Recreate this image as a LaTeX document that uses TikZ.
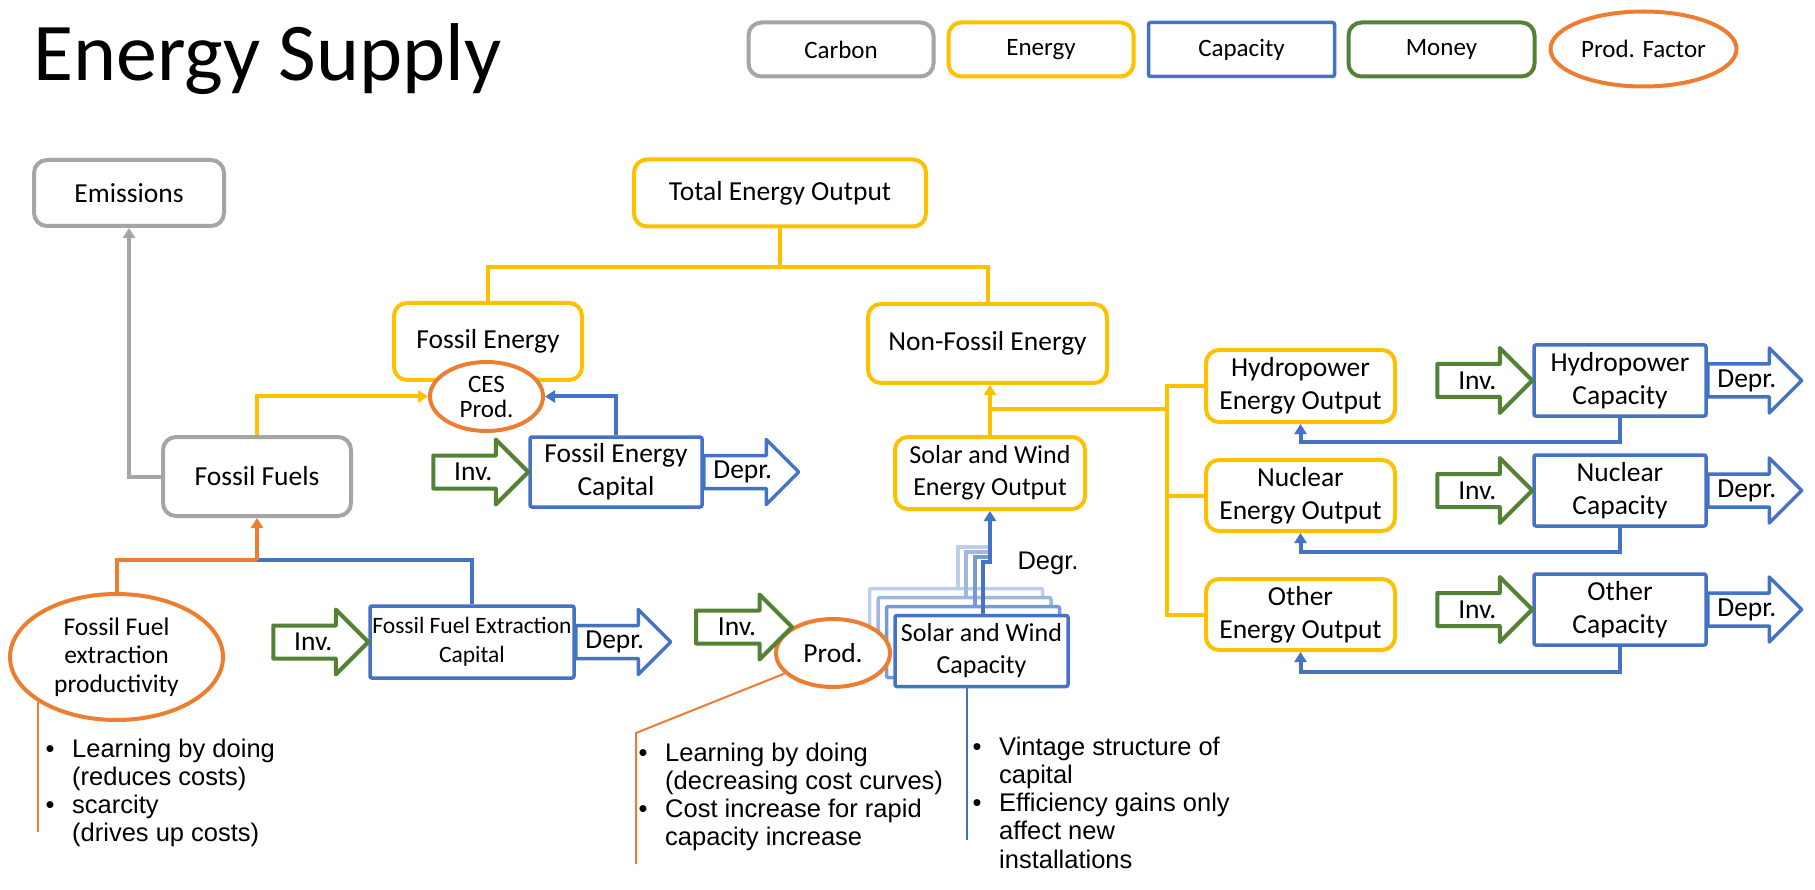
\documentclass[tikz,border=0pt]{standalone}
\usepackage{fontspec}
\setmainfont{Carlito}
\newfontfamily\arialf{Liberation Sans}
\usetikzlibrary{arrows.meta,calc,shapes.geometric}
\definecolor{cgray}{HTML}{A5A5A5}
\definecolor{cyel}{HTML}{FFC000}
\definecolor{cblue}{HTML}{4472C4}
\definecolor{cgreen}{HTML}{548235}
\definecolor{corange}{HTML}{ED7D31}
\newcommand\fatarrow[3]{%
  \draw[#1, shift={#2}] (-#3,-16.5) -- (-32.5,-16.5) -- (-32.5,-32.5) -- (0,0)
    -- (-32.5,32.5) -- (-32.5,16.5) -- (-#3,16.5) -- cycle;}
\newcommand\bulitem{\makebox[26.5pt][l]{•}}
\newcommand\bulind{\hspace*{26.5pt}}
\tikzset{
  txt/.style={font=\fontsize{27.5}{33}\selectfont, align=center, inner sep=0pt, text=black},
  gbox/.style={txt, draw=cgray, line width=4pt, rounded corners=13pt, fill=white},
  ybox/.style={txt, draw=cyel, line width=4pt, rounded corners=13pt, fill=white},
  bbox/.style={txt, draw=cblue, line width=3.5pt, rounded corners=2pt, fill=white},
  mbox/.style={txt, draw=cgreen, line width=4pt, rounded corners=13pt, fill=white},
  pell/.style={txt, ellipse, draw=corange, line width=4pt, fill=white},
  legtxt/.style={font=\fontsize{25}{30}\selectfont},
  gc/.style={draw=cgray, line width=4pt},
  yc/.style={draw=cyel, line width=4pt},
  bc/.style={draw=cblue, line width=4pt},
  oc/.style={draw=corange, line width=4pt},
  thinline/.style={line width=2pt},
  arr/.style={-{Triangle[length=10pt,width=12pt]}},
  invar/.style={draw=cgreen, line width=4pt, line join=round},
  deprar/.style={draw=cblue, line width=3.5pt, line join=round},
  note/.style={font=\arialf\fontsize{25.5}{28.3}\selectfont, inner sep=0pt, anchor=base west},
}
\begin{document}
\begin{tikzpicture}[x=1pt,y=-1pt]
\useasboundingbox (0,0) rectangle (1815,890);
\fill[white] (0,0) rectangle (1815,890);

% title
\node[anchor=base west, inner sep=0pt, font=\fontsize{82}{98}\selectfont] (title) at (33,81) {Energy Supply};

% legend
\node[gbox, legtxt, minimum width=185, minimum height=54] (lcarbon) at (841,49.5) {Carbon};
\node[ybox, legtxt, minimum width=185, minimum height=54] (lenergy) at (1041,49.5) {Energy};
\node[bbox, legtxt, minimum width=186, minimum height=54] (lcap) at (1241.5,49.5) {Capacity};
\node[mbox, legtxt, minimum width=186, minimum height=54] (lmoney) at (1441.5,49.5) {Money};
\node[pell, legtxt, minimum width=186, minimum height=75] (lpf) at (1643.5,49) {Prod. Factor};

% main boxes
\node[gbox, minimum width=190, minimum height=66] (emis) at (129,193) {Emissions};
\node[ybox, minimum width=292, minimum height=67] (total) at (780,193) {Total Energy Output};
\node[ybox, minimum width=188, minimum height=77] (fossE) at (488,341.5) {Fossil Energy};
\node[pell, font=\fontsize{25}{25}\selectfont, minimum width=113, minimum height=69] (ces) at (486.5,396.5) {CES\\Prod.};
\node[ybox, minimum width=239, minimum height=79] (nonfos) at (987.5,343.5) {Non-Fossil Energy};
\node[gbox, minimum width=188, minimum height=79] (ffuels) at (257,476.5) {Fossil Fuels};
\node[bbox, minimum width=172, minimum height=70] (fecap) at (616,472) {Fossil Energy\\Capital};
\node[pell, font=\fontsize{25.5}{28.5}\selectfont, minimum width=213, minimum height=126] (ffprod) at (116.5,657) {Fossil Fuel\\extraction\\productivity};
\node[bbox, font=\fontsize{23.5}{29}\selectfont, minimum width=204, minimum height=72] (ffecap) at (472,642) {Fossil Fuel Extraction\\Capital};
\node[ybox, font=\fontsize{26}{32}\selectfont, minimum width=190, minimum height=72] (swout) at (990,473) {Solar and Wind\\Energy Output};

% stacked vintage copies
\node[bbox, draw=cblue!35, minimum width=173, minimum height=71] (sw3) at (956,624) {};
\node[bbox, draw=cblue!52, minimum width=173, minimum height=71] (sw2) at (964.5,633) {};
\node[bbox, draw=cblue!72, minimum width=173, minimum height=71] (sw1) at (973,642) {};
\coordinate (sj3) at (990,547);
\coordinate (sj2) at (990,552);
\coordinate (sj1) at (990,557);
\coordinate (sj) at (990,562);
\draw[bc, draw=cblue!35] ($(sw3.north)+(1.5,0)$) |- (sj3);
\draw[bc, draw=cblue!52] ($(sw2.north)+(1.5,0)$) |- (sj2);
\draw[bc, draw=cblue!72] ($(sw1.north)+(1.5,0)$) |- (sj1);

\node[pell, minimum width=114, minimum height=68] (prod) at (833,653) {Prod.};
\node[bbox, font=\fontsize{26}{32}\selectfont, minimum width=173, minimum height=71] (swcap) at (981.5,651) {Solar and Wind\\Capacity};
\draw[bc, arr] ($(swcap.north)+(1.5,0)$) |- (sj) -- (swout.south);
\node[font=\arialf\fontsize{25.5}{28}\selectfont, inner sep=0pt] (degr) at (1048,563) {Degr.};

\node[ybox, minimum width=189, minimum height=72] (hydout) at (1300.5,386) {Hydropower\\Energy Output};
\node[ybox, minimum width=189, minimum height=71] (nucout) at (1300.5,495.5) {Nuclear\\Energy Output};
\node[ybox, minimum width=189, minimum height=71] (othout) at (1300.5,614.5) {Other\\Energy Output};
\node[bbox, minimum width=172, minimum height=71] (hydcap) at (1620,380.5) {Hydropower\\Capacity};
\node[bbox, minimum width=172, minimum height=71] (nuccap) at (1620,490.5) {Nuclear\\Capacity};
\node[bbox, minimum width=172, minimum height=71] (othcap) at (1620,609.5) {Other\\Capacity};

% block arrows: investment and depreciation
\fatarrow{invar}{(fecap.west)}{95}
\node[txt] (inv1) at ($(fecap.west)+(-55,0)$) {Inv.};
\fatarrow{deprar}{($(fecap.east)+(95,0)$)}{95}
\node[txt] (dep1) at ($(fecap.east)+(39,0)$) {Depr.};

\fatarrow{invar}{(ffecap.west)}{95}
\node[txt] (inv2) at ($(ffecap.west)+(-55,0)$) {Inv.};
\fatarrow{deprar}{($(ffecap.east)+(95,0)$)}{95}
\node[txt] (dep2) at ($(ffecap.east)+(39,0)$) {Depr.};

\coordinate (sinv) at ($(prod.center)+(-41,-26)$);
\fatarrow{invar}{(sinv)}{96}
\node[txt] (inv3) at ($(sinv)+(-55,0)$) {Inv.};

\fatarrow{invar}{(hydcap.west)}{95}
\node[txt] (inv4) at ($(hydcap.west)+(-55,0)$) {Inv.};
\fatarrow{deprar}{($(hydcap.east)+(94,0)$)}{94}
\node[txt] (dep4) at ($(hydcap.east)+(39,0)$) {Depr.};

\fatarrow{invar}{(nuccap.west)}{95}
\node[txt] (inv5) at ($(nuccap.west)+(-55,0)$) {Inv.};
\fatarrow{deprar}{($(nuccap.east)+(94,0)$)}{94}
\node[txt] (dep5) at ($(nuccap.east)+(39,0)$) {Depr.};

\fatarrow{invar}{(othcap.west)}{95}
\node[txt] (inv6) at ($(othcap.west)+(-55,0)$) {Inv.};
\fatarrow{deprar}{($(othcap.east)+(94,0)$)}{94}
\node[txt] (dep6) at ($(othcap.east)+(39,0)$) {Depr.};

% connectors
\draw[gc, arr] (ffuels.west) -| (emis.south);
\draw[yc, arr] (ffuels.north) |- (ces.west);
\draw[bc, arr] (fecap.north) |- (ces.east);
\draw[yc] (total.south) -- ++(0,38.5) coordinate (tj) -| (fossE.north);
\draw[yc] (tj) -| (nonfos.north);
\draw[yc, arr] (swout.north) -- (swout.north |- nonfos.south);
\coordinate (tk) at (1167,409);
\draw[yc] (swout.north |- tk) -- (tk);
\draw[yc] (hydout.west) -| (tk);
\draw[yc] (othout.west) -| (tk);
\draw[yc] (nucout.west) -- (nucout.west -| tk);
\draw[bc, arr] (hydcap.south) -- ++(0,24) -| (hydout.south);
\draw[bc, arr] (nuccap.south) -- ++(0,24) -| (nucout.south);
\draw[bc, arr] (othcap.south) -- ++(0,25) -| (othout.south);
\coordinate (fj) at (257,560);
\draw[bc] (ffecap.north) |- (fj);
\draw[oc] (ffprod.north) |- (fj);
\draw[oc, arr] (fj) -- (ffuels.south);

% annotation lines
\draw[oc, thinline] (ffprod.210) -- ++(0,130);
\coordinate (n2c) at (636,733);
\draw[oc, thinline] (prod.203) -- (n2c) -- ++(0,131);
\draw[bc, thinline] ($(swcap.south)+(-14.5,0)$) -- ++(0,152);

% notes
\node[note] (note1) at (45.5,757) {\begin{tabular}[t]{@{}l@{}}\bulitem Learning by doing\\\bulind (reduces costs)\\\bulitem scarcity\\\bulind (drives up costs)\end{tabular}};
\node[note] (note2) at (638.5,761) {\begin{tabular}[t]{@{}l@{}}\bulitem Learning by doing\\\bulind (decreasing cost curves)\\\bulitem Cost increase for rapid\\\bulind capacity increase\end{tabular}};
\node[note] (note3) at (972.5,755) {\begin{tabular}[t]{@{}l@{}}\bulitem Vintage structure of\\\bulind capital\\\bulitem Efficiency gains only\\\bulind affect new\\\bulind installations\end{tabular}};
\end{tikzpicture}
\end{document}
